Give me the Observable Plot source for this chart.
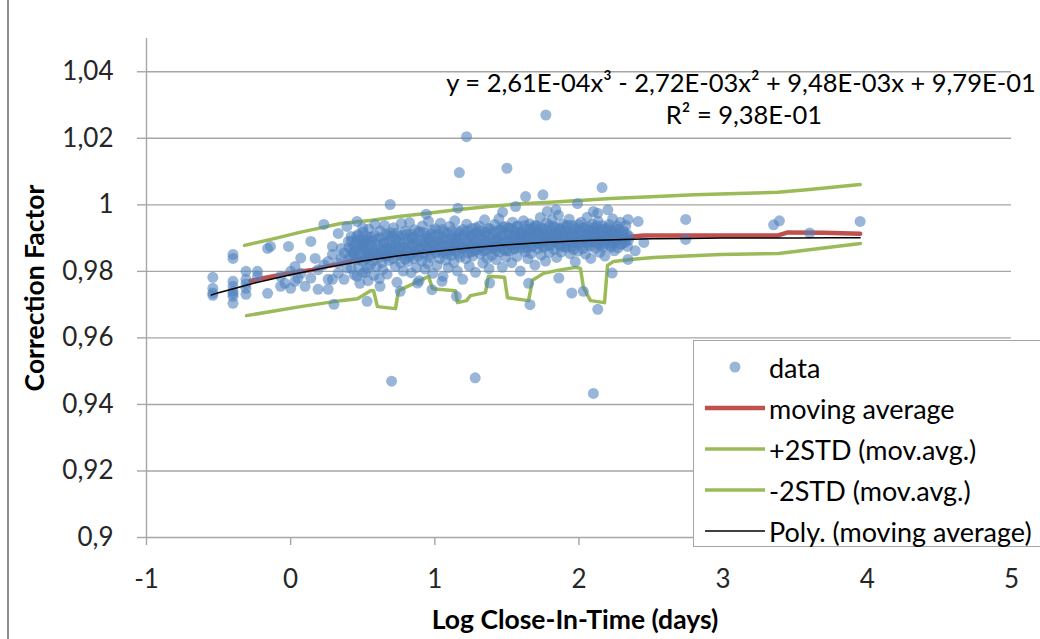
<!DOCTYPE html>
<html>
<head>
<meta charset="utf-8">
<script src="https://cdn.jsdelivr.net/npm/d3@7"></script>
<script src="https://cdn.jsdelivr.net/npm/@observablehq/plot@0.6"></script>
<style>
  body { margin: 0; background: #fff; }
  #wrap { position: relative; width: 1040px; height: 639px; overflow: hidden; font-family: Lato, "Open Sans", sans-serif; }
  #leftBorder { position: absolute; left: 7px; top: 0; width: 0; height: 639px; border-left: 2px solid #8c8c8c; }
  #legend { position: absolute; left: 693px; top: 340px; width: 360px; height: 207px; background: #fff; border: 1.5px solid #a6a6a6; box-sizing: border-box; }
  .row { position: absolute; left: 0; height: 40px; display: flex; align-items: center; }
  .row svg { margin-left: 11px; flex: none; }
  .row span { margin-left: 4px; font-size: 27px; color: #000; white-space: nowrap; }
</style>
</head>
<body>
<div id="wrap">
  <div id="chart"></div>
  <div id="leftBorder"></div>
  <div id="legend"></div>
</div>
<script>
// ---- axis ticks and texts ----
const xTicks = [-1, 0, 1, 2, 3, 4, 5];
const yTicks = [0.9, 0.92, 0.94, 0.96, 0.98, 1, 1.02, 1.04];
const xTitle = "Log Close-In-Time (days)";
const yTitle = "Correction Factor";
const equationText = "y = 2,61E-04x³ - 2,72E-03x² + 9,48E-03x + 9,79E-01";
const r2Text = "R² = 9,38E-01";

// ---- data, left (sparse) part: [x, [y values]] ----
const dataColumns = [
  [-0.54, [0.9782, 0.9749, 0.9735, 0.9728]],
  [-0.40, [0.9851, 0.9839, 0.977, 0.9755, 0.974, 0.9733, 0.9725, 0.9704]],
  [-0.31, [0.980, 0.9776, 0.9762, 0.9749, 0.9731]],
  [-0.23, [0.980, 0.9785]],
  [-0.16, [0.9869, 0.9734]],
  [-0.14, [0.9875]],
  [-0.07, [0.9755, 0.9785]],
  [-0.04, [0.9764]],
  [-0.015, [0.9875]],
  [0.0, [0.980, 0.9749]],
  [0.03, [0.9815, 0.977]],
  [0.05, [0.9779]],
  [0.07, [0.9794, 0.984]],
  [0.10, [0.9755]],
  [0.14, [0.989, 0.978]],
  [0.17, [0.9839]],
  [0.19, [0.9746, 0.9805]],
  [0.23, [0.9941, 0.982]],
  [0.26, [0.9776, 0.9746, 0.983]],
  [0.29, [0.9875, 0.9851, 0.9776]],
  [0.30, [0.9701]],
  [0.33, [0.9914, 0.9795, 0.9825]],
  [0.35, [0.9869, 0.984]],
  [0.37, [0.9776, 0.9855]],
  [0.39, [0.9935, 0.981]],
  [0.40, [0.989, 0.9835]],
  [0.42, [0.9809, 0.9865, 0.9905]],
  [0.44, [0.9851, 0.979]],
  [0.46, [0.995, 0.9785, 0.9895, 0.9835]],
  [0.47, [0.9911, 0.9815]],
  [0.48, [0.9764, 0.9875]],
  [0.50, [0.9869, 0.993, 0.9885, 0.983, 0.9795]],
  [0.53, [0.9809, 0.971, 0.9895, 0.985]]
];

// ---- data, dense cloud: [x, y] ----
const denseCloud = [
  [0.503,0.9918],[0.512,0.9862],[0.518,0.9797],[0.524,0.9889],[0.531,0.9841],[0.537,0.9772],[0.542,0.9927],[0.548,0.9856],
  [0.553,0.9819],[0.559,0.9903],[0.566,0.9874],[0.572,0.9832],[0.578,0.9788],[0.584,0.9941],[0.589,0.9866],[0.596,0.9814],
  [0.604,0.9897],[0.609,0.9851],[0.615,0.9778],[0.621,0.9922],[0.627,0.9868],[0.633,0.9827],[0.639,0.9805],[0.645,0.9885],
  [0.651,0.9938],[0.657,0.9845],[0.663,0.9871],[0.669,0.9792],[0.676,0.9908],[0.682,0.9833],[0.688,0.9859],[0.694,0.9916],
  [0.703,0.9879],[0.708,0.9838],[0.714,0.9931],[0.720,0.9862],[0.726,0.9815],[0.731,0.9895],[0.737,0.9767],[0.743,0.9848],
  [0.749,0.9905],[0.755,0.9873],[0.762,0.9826],[0.768,0.9944],[0.774,0.9858],[0.781,0.9801],[0.787,0.9887],[0.794,0.9836],
  [0.802,0.9912],[0.807,0.9864],[0.813,0.9829],[0.819,0.9883],[0.824,0.9947],[0.830,0.9851],[0.836,0.9796],[0.841,0.9902],
  [0.847,0.9876],[0.853,0.9838],[0.859,0.9925],[0.866,0.9861],[0.872,0.9811],[0.878,0.9893],[0.884,0.9845],[0.891,0.9772],[0.897,0.9918],
  [0.903,0.9869],[0.909,0.9831],[0.914,0.9936],[0.920,0.9884],[0.926,0.9852],[0.932,0.9807],[0.938,0.9899],[0.944,0.9872],
  [0.950,0.9823],[0.956,0.9951],[0.962,0.9889],[0.968,0.9842],[0.974,0.9913],[0.980,0.9866],[0.986,0.9794],[0.993,0.9881],
  [1.004,0.9928],[1.009,0.9857],[1.015,0.9818],[1.021,0.9892],[1.027,0.9874],[1.033,0.9839],[1.039,0.9945],[1.045,0.9903],
  [1.051,0.9861],[1.057,0.9785],[1.063,0.9918],[1.069,0.9879],[1.075,0.9834],[1.082,0.9896],[1.088,0.9852],[1.094,0.9811],
  [1.103,0.9935],[1.108,0.9884],[1.114,0.9848],[1.120,0.9907],[1.126,0.9866],[1.132,0.9827],[1.138,0.9952],[1.144,0.9893],
  [1.150,0.9858],[1.156,0.9801],[1.162,0.9921],[1.168,0.9875],[1.174,0.9843],[1.180,0.9899],[1.187,0.9869],[1.193,0.9776],
  [1.203,0.9911],[1.209,0.9872],[1.215,0.9838],[1.221,0.9942],[1.227,0.9889],[1.233,0.9856],[1.239,0.9816],[1.245,0.9903],
  [1.251,0.9878],[1.257,0.9929],[1.263,0.9846],[1.269,0.9895],[1.275,0.9861],[1.282,0.9797],[1.288,0.9917],[1.294,0.9871],
  [1.303,0.9887],[1.309,0.9936],[1.315,0.9852],[1.321,0.9908],[1.327,0.9873],[1.333,0.9825],[1.339,0.9897],[1.345,0.9955],
  [1.351,0.9864],[1.357,0.9919],[1.363,0.9839],[1.369,0.9886],[1.376,0.9808],[1.382,0.9928],[1.388,0.9876],[1.394,0.9848],
  [1.403,0.9913],[1.408,0.9869],[1.414,0.9941],[1.420,0.9893],[1.426,0.9835],[1.432,0.9902],[1.438,0.9877],[1.444,0.9958],
  [1.450,0.9859],[1.456,0.9924],[1.462,0.9885],[1.468,0.9812],[1.474,0.9907],[1.480,0.9866],[1.487,0.9935],[1.493,0.9843],
  [1.503,0.9896],[1.509,0.9931],[1.515,0.9861],[1.521,0.9912],[1.527,0.9879],[1.533,0.9826],[1.539,0.9948],[1.545,0.9903],
  [1.551,0.9868],[1.557,0.9921],[1.563,0.9889],[1.569,0.9845],[1.575,0.9937],[1.581,0.9874],[1.587,0.9908],[1.593,0.9801],
  [1.603,0.9918],[1.609,0.9883],[1.615,0.9952],[1.621,0.9897],[1.627,0.9859],[1.633,0.9926],[1.639,0.9871],[1.645,0.9838],
  [1.651,0.9909],[1.657,0.9943],[1.663,0.9886],[1.669,0.9854],[1.675,0.9914],[1.682,0.9877],[1.688,0.9932],[1.694,0.9819],
  [1.703,0.9901],[1.708,0.9936],[1.714,0.9868],[1.720,0.9917],[1.726,0.9884],[1.732,0.9962],[1.738,0.9849],[1.744,0.9905],
  [1.750,0.9928],[1.756,0.9872],[1.762,0.9893],[1.768,0.9831],[1.774,0.9946],[1.780,0.9911],[1.787,0.9878],[1.793,0.9857],
  [1.803,0.9923],[1.809,0.9889],[1.815,0.9955],[1.821,0.9906],[1.827,0.9866],[1.833,0.9931],[1.839,0.9895],[1.845,0.9842],
  [1.851,0.9914],[1.857,0.9969],[1.863,0.9881],[1.869,0.9927],[1.876,0.9858],[1.882,0.9903],[1.888,0.9942],[1.894,0.9875],
  [1.903,0.9908],[1.909,0.9936],[1.914,0.9872],[1.920,0.9919],[1.926,0.9891],[1.932,0.9957],[1.938,0.9853],[1.944,0.9912],
  [1.950,0.9885],[1.956,0.9938],[1.962,0.9866],[1.968,0.9903],[1.974,0.9829],[1.980,0.9926],[1.986,0.9893],[1.993,0.9861],
  [2.003,0.9921],[2.009,0.9887],[2.015,0.9948],[2.021,0.9906],[2.027,0.9868],[2.033,0.9933],[2.039,0.9897],[2.045,0.9852],
  [2.051,0.9916],[2.057,0.9963],[2.063,0.9879],[2.069,0.9924],[2.075,0.9891],[2.082,0.9839],[2.088,0.9909],[2.094,0.9942],
  [2.103,0.9903],[2.108,0.9931],[2.114,0.9869],[2.120,0.9915],[2.126,0.9884],[2.132,0.9951],[2.138,0.9898],[2.144,0.9857],
  [2.150,0.9922],[2.156,0.9889],[2.162,0.9937],[2.168,0.9873],[2.174,0.9908],[2.180,0.9846],[2.187,0.9926],[2.193,0.9894],
  [2.203,0.9912],[2.209,0.9941],[2.215,0.9877],[2.221,0.9919],[2.227,0.9886],[2.233,0.9958],[2.239,0.9901],[2.245,0.9862],
  [2.252,0.9927],[2.258,0.9893],[2.265,0.9936],[2.272,0.9871],[2.280,0.9909],[2.288,0.9948],[2.296,0.9883],[2.305,0.9917],
  [2.315,0.9896],[2.325,0.9938],[2.336,0.9875],[2.348,0.9905]
];

// ---- data, densest core of the cloud: [x, y] ----
const coreCloud = [
  [0.405,0.9872],[0.413,0.9848],[0.421,0.9891],[0.434,0.9858],[0.442,0.9879],
  [0.452,0.9862],[0.458,0.9906],[0.466,0.9841],[0.474,0.9884],[0.489,0.9853],[0.495,0.9897],
  [0.506,0.9876],[0.515,0.9839],[0.527,0.9905],[0.535,0.9861],[0.546,0.9884],
  [0.556,0.9848],[0.563,0.9893],[0.571,0.9862],[0.582,0.9908],[0.593,0.9853],
  [0.606,0.9879],[0.613,0.9842],[0.624,0.9901],[0.636,0.9858],[0.647,0.9887],
  [0.654,0.9866],[0.661,0.9912],[0.672,0.9848],[0.684,0.9892],[0.697,0.9869],
  [0.705,0.9904],[0.712,0.9857],[0.723,0.9881],[0.734,0.9915],[0.746,0.9863],
  [0.753,0.9889],[0.765,0.9851],[0.772,0.9908],[0.784,0.9872],[0.796,0.9921],
  [0.805,0.9861],[0.811,0.9896],[0.822,0.9845],[0.834,0.9912],[0.845,0.9879],
  [0.855,0.9903],[0.862,0.9856],[0.874,0.9884],[0.886,0.9919],[0.893,0.9867],
  [0.906,0.9891],[0.917,0.9855],[0.923,0.9917],[0.935,0.9878],[0.947,0.9906],
  [0.953,0.9866],[0.965,0.9898],[0.971,0.9851],[0.983,0.9924],[0.996,0.9884],
  [1.006,0.9907],[1.012,0.9869],[1.024,0.9912],[1.036,0.9883],[1.048,0.9855],
  [1.054,0.9926],[1.061,0.9889],[1.072,0.9862],[1.085,0.9915],[1.097,0.9878],
  [1.106,0.9861],[1.117,0.9898],[1.123,0.9922],[1.135,0.9875],[1.147,0.9904],
  [1.153,0.9887],[1.165,0.9852],[1.171,0.9915],[1.184,0.9882],[1.196,0.9926],
  [1.206,0.9867],[1.212,0.9898],[1.224,0.9921],[1.236,0.9873],[1.248,0.9908],
  [1.254,0.9859],[1.266,0.9913],[1.272,0.9884],[1.285,0.9931],[1.297,0.9866],
  [1.306,0.9903],[1.312,0.9874],[1.324,0.9921],[1.336,0.9861],[1.348,0.9895],
  [1.354,0.9912],[1.366,0.9881],[1.372,0.9929],[1.385,0.9868],[1.397,0.9901],
  [1.405,0.9886],[1.417,0.9918],[1.423,0.9862],[1.435,0.9896],[1.447,0.9926],
  [1.453,0.9874],[1.465,0.9908],[1.471,0.9933],[1.484,0.9889],[1.496,0.9862],
  [1.506,0.9915],[1.512,0.9883],[1.524,0.9929],[1.536,0.9897],[1.548,0.9868],
  [1.554,0.9906],[1.566,0.9934],[1.572,0.9881],[1.585,0.9917],[1.597,0.9893],
  [1.606,0.9869],[1.612,0.9911],[1.624,0.9938],[1.636,0.9886],[1.648,0.9921],
  [1.654,0.9897],[1.666,0.9927],[1.672,0.9873],[1.685,0.9904],[1.697,0.9939],
  [1.706,0.9885],[1.712,0.9919],[1.724,0.9901],[1.736,0.9932],[1.748,0.9876],
  [1.754,0.9912],[1.766,0.9889],[1.772,0.9924],[1.785,0.9898],[1.797,0.9937],
  [1.806,0.9879],[1.812,0.9911],[1.824,0.9936],[1.836,0.9887],[1.848,0.9918],
  [1.854,0.9896],[1.866,0.9929],[1.872,0.9873],[1.885,0.9915],[1.897,0.9893],
  [1.906,0.9921],[1.912,0.9884],[1.924,0.9939],[1.936,0.9902],[1.948,0.9874],
  [1.954,0.9913],[1.966,0.9887],[1.972,0.9931],[1.985,0.9906],[1.997,0.9941],
  [2.006,0.9879],[2.012,0.9918],[2.024,0.9894],[2.036,0.9929],[2.048,0.9903],
  [2.054,0.9886],[2.066,0.9934],[2.072,0.9911],[2.085,0.9876],[2.097,0.9923],
  [2.106,0.9916],[2.112,0.9889],[2.124,0.9937],[2.136,0.9904],[2.148,0.9879],
  [2.154,0.9927],[2.166,0.9893],[2.172,0.9915],[2.185,0.9884],[2.197,0.9932],
  [2.206,0.9898],[2.212,0.9925],[2.224,0.9872],[2.236,0.9913],[2.248,0.9889],
  [2.256,0.9918],[2.268,0.9895],[2.276,0.9926],[2.291,0.9881],[2.299,0.9909],
  [2.310,0.9921],[2.320,0.9887],[2.331,0.9912],[2.343,0.9894]
];

// ---- data, scattered points and outliers: [x, y] ----
const sparsePoints = [
  [0.69,1.0001],[1.16,0.999],[1.63,1.0025],[1.75,1.003],[1.56,0.9995],[1.99,1.0004],[2.10,0.998],[2.13,0.9975],
  [1.84,0.9985],[1.78,0.998],[0.94,0.9972],[1.47,0.9978],[2.20,0.9985],[1.17,1.0097],[1.50,1.011],[2.16,1.0052],
  [1.22,1.0205],[1.77,1.027],
  [0.70,0.947],[1.28,0.948],[2.10,0.9433],[0.76,0.974],[0.88,0.9765],[1.05,0.977],[1.15,0.9725],[1.38,0.9765],
  [1.65,0.9764],[1.66,0.970],[1.95,0.9735],[2.03,0.974],[2.13,0.9686],[1.86,0.978],[2.23,0.9795],[0.62,0.9755],[0.98,0.9745],
  [2.34,0.9956],[2.41,0.995],[2.45,0.9887],[2.39,0.9862],[2.34,0.9836],[2.74,0.9956],[2.74,0.9896],
  [3.35,0.994],[3.39,0.9952],[3.60,0.9915],[3.95,0.995]
];

// ---- moving average and ±2STD bands, [x, y] ----
const movingAverage = [
  [-0.28, 0.9771], [-0.2, 0.9779], [-0.1, 0.9787], [0.0, 0.9795], [0.07, 0.9800], [0.15, 0.9804],
  [0.25, 0.9815], [0.3, 0.9819], [0.35, 0.9823], [0.45, 0.9834], [0.55, 0.9841], [0.7, 0.9849],
  [0.85, 0.9855], [1.0, 0.9862], [1.15, 0.9869], [1.3, 0.9875], [1.45, 0.9881], [1.6, 0.9885],
  [1.75, 0.9889], [1.9, 0.9893], [2.05, 0.9897], [2.2, 0.9900], [2.35, 0.9904], [2.45, 0.9908],
  [2.7, 0.9908], [3.0, 0.9908], [3.38, 0.9908], [3.45, 0.9917], [3.7, 0.9916], [3.95, 0.9913]
];
const plus2STD = [
  [-0.32, 0.9878], [-0.1, 0.9900], [0.07, 0.9918], [0.2, 0.9930], [0.345, 0.9944], [0.55, 0.9953],
  [0.75, 0.9965], [0.95, 0.9975], [1.15, 0.9985], [1.39, 0.9996], [1.6, 1.0003], [1.8, 1.0008],
  [2.0, 1.0013], [2.22, 1.0019], [2.5, 1.0024], [2.8, 1.0030], [3.1, 1.0034], [3.38, 1.0038],
  [3.6, 1.0046], [3.95, 1.0061]
];
const minus2STD = [
  [-0.306, 0.9667], [0.068, 0.9694], [0.346, 0.9712], [0.464, 0.9718], [0.554, 0.9742], [0.575, 0.9742],
  [0.602, 0.9694], [0.727, 0.9688], [0.748, 0.9742], [0.852, 0.9763], [0.956, 0.9785], [0.984, 0.9748],
  [1.143, 0.9742], [1.157, 0.9706], [1.220, 0.9712], [1.247, 0.9727], [1.351, 0.9736], [1.372, 0.9785],
  [1.483, 0.9782], [1.504, 0.9721], [1.650, 0.9712], [1.677, 0.9773], [1.754, 0.9794], [1.851, 0.9803],
  [1.976, 0.9812], [2.010, 0.9809], [2.031, 0.9751], [2.080, 0.9712], [2.177, 0.9706], [2.198, 0.9818],
  [2.239, 0.9830], [2.357, 0.9836], [2.517, 0.9842], [2.981, 0.9851], [3.384, 0.9854], [3.953, 0.9884]
];
// ---- polynomial trendline ----
const polyTrend = [
  [-0.55, 0.9729], [-0.5, 0.9736], [-0.25, 0.9765], [0, 0.9790], [0.25, 0.9812], [0.5, 0.9831],
  [0.75, 0.9847], [1, 0.9860], [1.25, 0.9871], [1.5, 0.9880], [1.75, 0.9887], [2, 0.9892],
  [2.25, 0.9895], [2.5, 0.9898], [2.75, 0.9899], [3, 0.9900], [3.25, 0.9900], [3.5, 0.9900],
  [3.75, 0.9901], [3.95, 0.9901]
];

const legendLabels = ["data", "moving average", "+2STD (mov.avg.)", "-2STD (mov.avg.)", "Poly. (moving average)"];
const colors = { data: "#4F81BD", avg: "#C0504D", std: "#9BBB59", poly: "#000000" };

const points = dataColumns.flatMap(([x, ys]) => ys.map(y => [x, y])).concat(denseCloud, coreCloud, sparsePoints);
const fmt = d => String(d).replace(".", ",");

const chart = Plot.plot({
  width: 1040,
  height: 639,
  marginLeft: 146,
  marginRight: 29,
  marginTop: 38,
  marginBottom: 102,
  style: { fontFamily: "Lato, 'Open Sans', sans-serif", background: "transparent", color: "#262626" },
  x: { domain: [-1, 5] },
  y: { domain: [0.9, 1.05] },
  marks: [
    Plot.gridY(yTicks, { stroke: "#a6a6a6", strokeOpacity: 1, strokeWidth: 1.4 }),
    Plot.ruleX([-1], { stroke: "#a6a6a6", strokeWidth: 1.4 }),
    Plot.axisY(yTicks, { tickFormat: fmt, tickSize: 9, tickPadding: 24, fontSize: 26, stroke: "#a6a6a6", strokeWidth: 1.4, label: null }),
    Plot.axisX(xTicks, { tickFormat: fmt, tickSize: 8, tickPadding: 24, fontSize: 26, stroke: "#a6a6a6", strokeWidth: 1.4, label: null }),
    Plot.line(movingAverage, { stroke: colors.avg, strokeWidth: 4.5 }),
    Plot.line(plus2STD, { stroke: colors.std, strokeWidth: 3.5 }),
    Plot.line(minus2STD, { stroke: colors.std, strokeWidth: 3.5 }),
    Plot.dot(points, { r: 5.5, fill: colors.data, fillOpacity: 0.58, stroke: "none" }),
    Plot.line(polyTrend, { stroke: colors.poly, strokeWidth: 1.5 }),
    Plot.text([equationText], { text: d => d, frameAnchor: "top", dx: 162, dy: 35, fontSize: 25.5, fill: "#000" }),
    Plot.text([r2Text], { text: d => d, frameAnchor: "top", dx: 165, dy: 67, fontSize: 25.5, fill: "#000" }),
    Plot.text([xTitle], { text: d => d, frameAnchor: "bottom", dx: -4, dy: 91, fontSize: 26.5, fontWeight: "bold", fill: "#000" }),
    Plot.text([yTitle], { text: d => d, frameAnchor: "left", textAnchor: "middle", dx: -111, rotate: -90, fontSize: 26.5, fontWeight: "bold", fill: "#000" })
  ]
});
document.getElementById("chart").appendChild(chart);

// ---- legend ----
const legend = document.getElementById("legend");
legendLabels.forEach((label, i) => {
  const row = document.createElement("div");
  row.className = "row";
  row.style.top = (6 + 41 * i) + "px";
  let sym;
  if (i === 0) sym = `<circle cx="30" cy="10" r="5.5" fill="${colors.data}" fill-opacity="0.58"/>`;
  else if (i === 1) sym = `<line x1="0" x2="60" y1="10" y2="10" stroke="${colors.avg}" stroke-width="4.5"/>`;
  else if (i === 4) sym = `<line x1="0" x2="60" y1="10" y2="10" stroke="${colors.poly}" stroke-width="1.5"/>`;
  else sym = `<line x1="0" x2="60" y1="10" y2="10" stroke="${colors.std}" stroke-width="3.5"/>`;
  row.innerHTML = `<svg width="60" height="20">${sym}</svg><span>${label}</span>`;
  legend.appendChild(row);
});
</script>
</body>
</html>
